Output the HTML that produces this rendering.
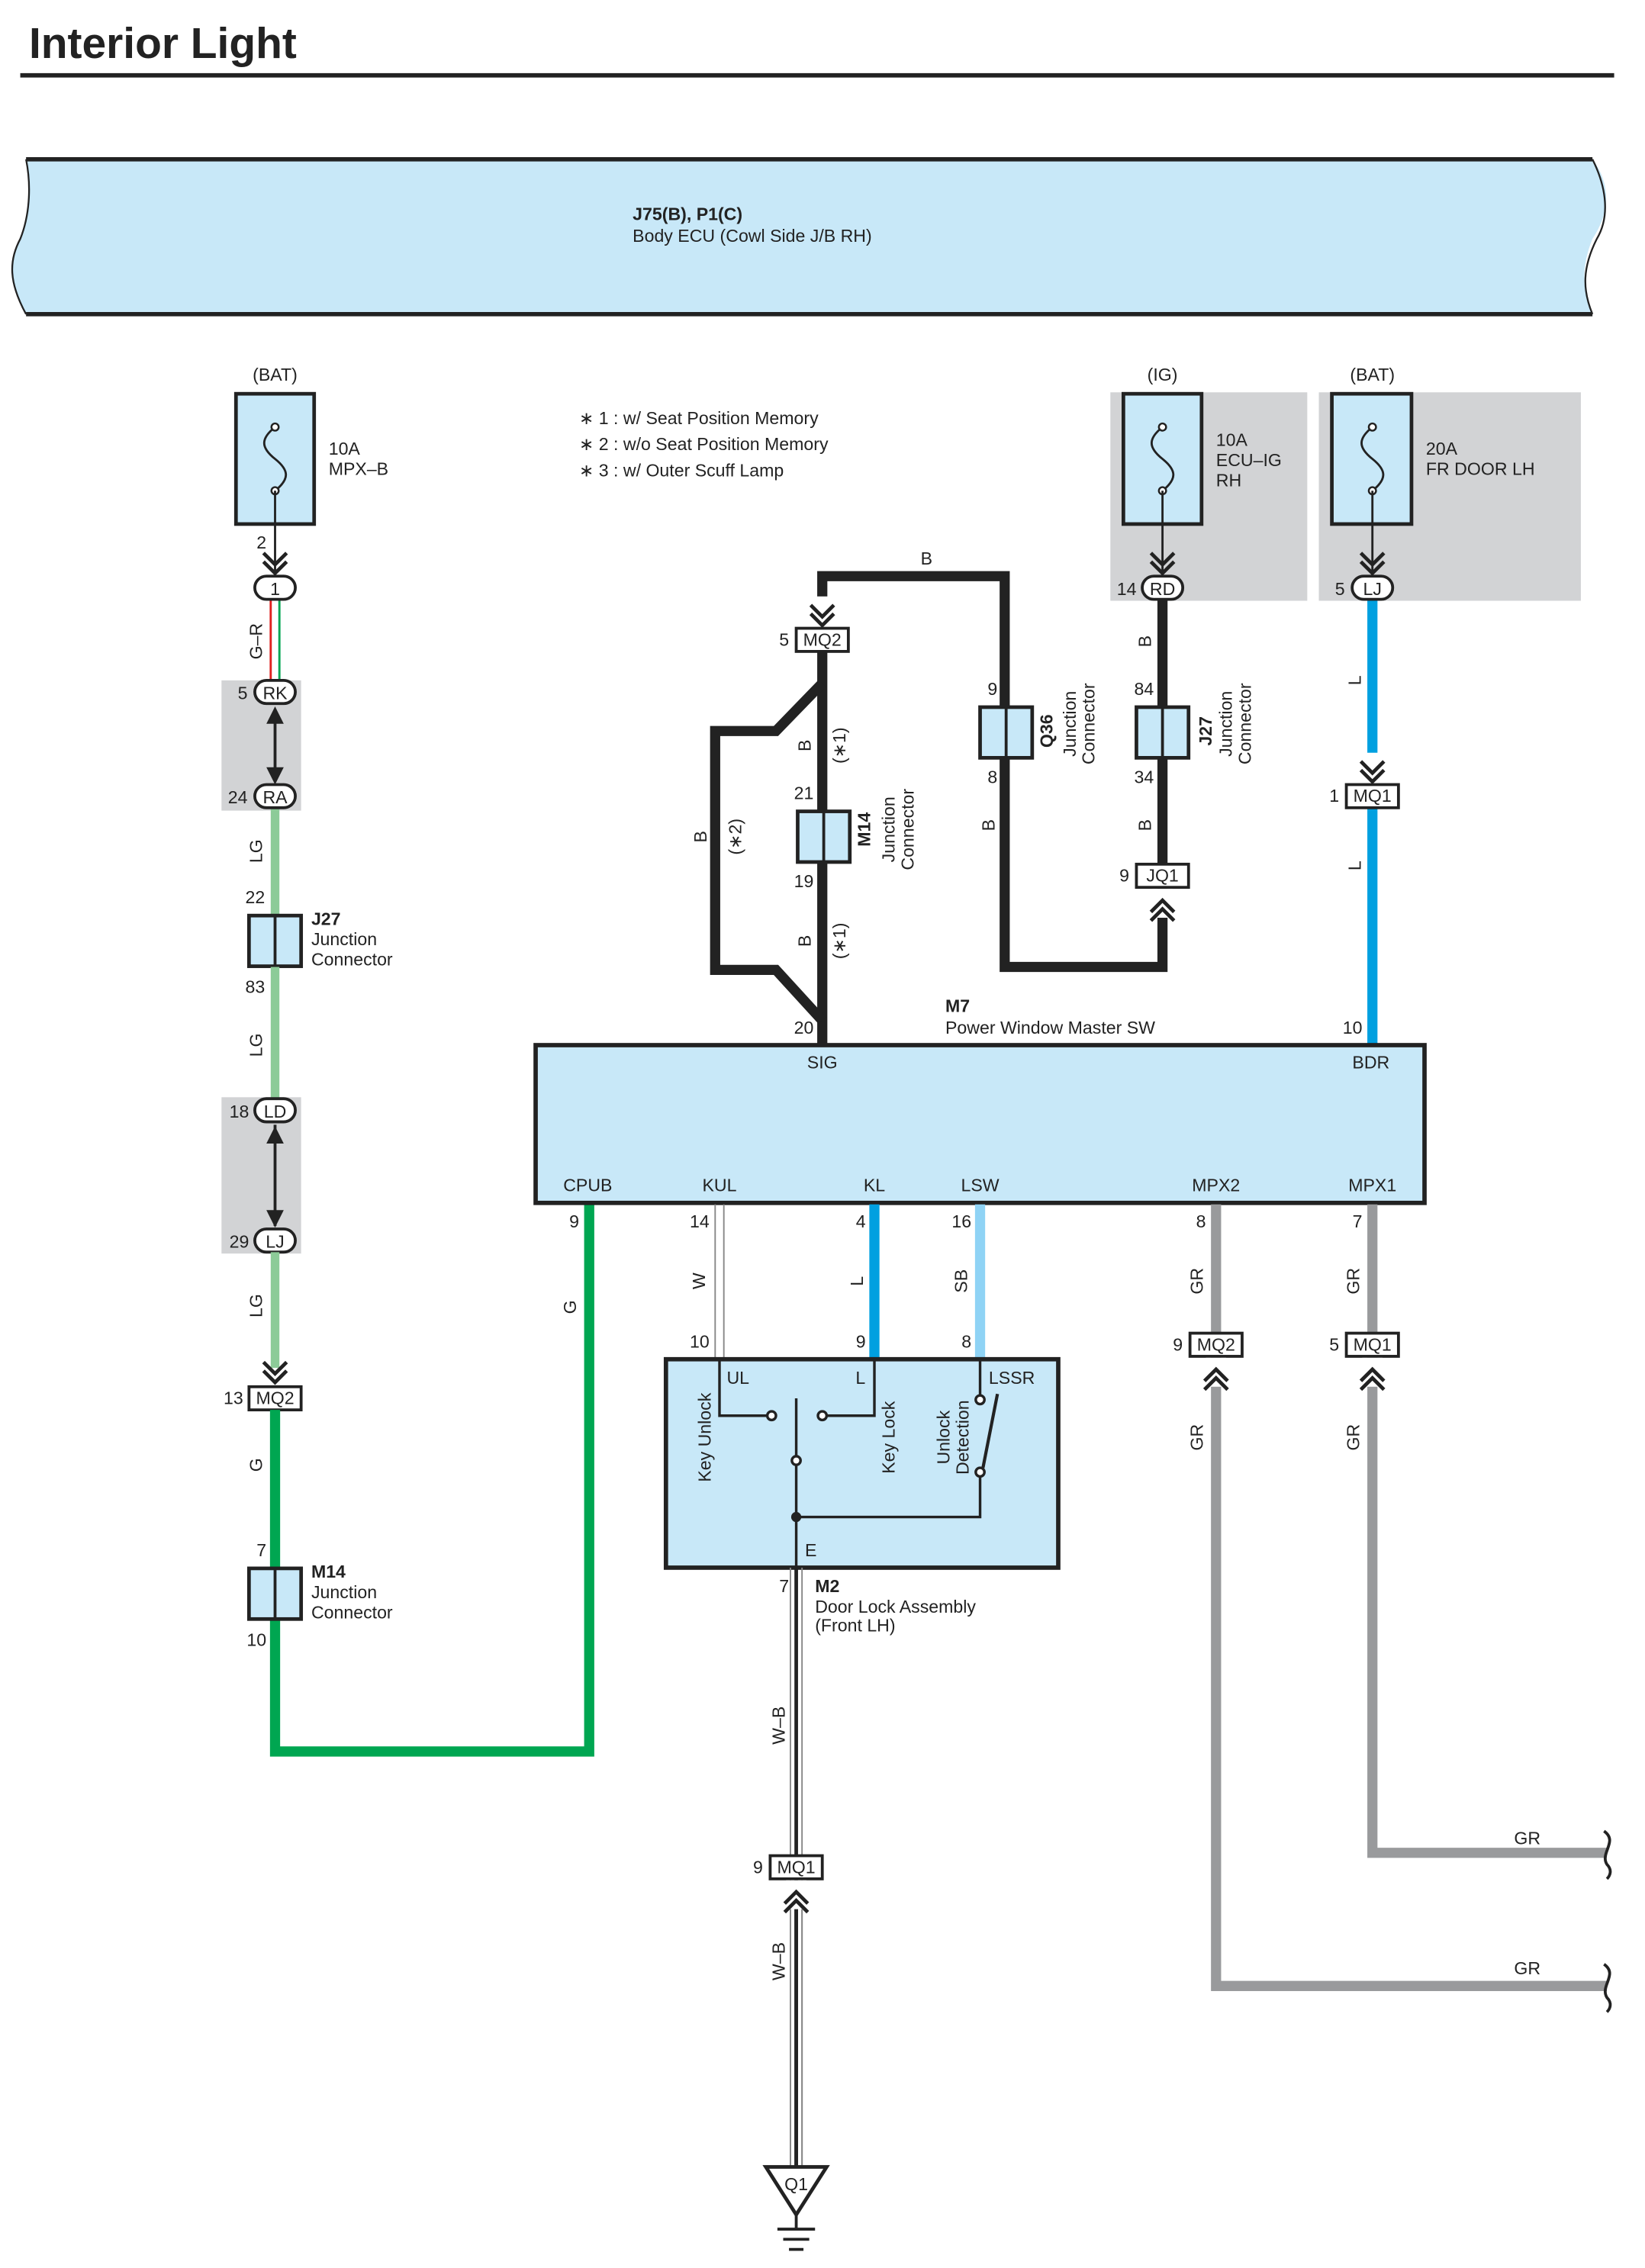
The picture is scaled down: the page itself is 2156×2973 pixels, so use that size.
<!DOCTYPE html>
<html><head><meta charset="utf-8"><style>
html,body{margin:0;padding:0;background:#fff}
svg{display:block}
text{font-family:"Liberation Sans",sans-serif;font-size:12.2px;fill:#222}
.b{font-weight:bold}
.c{text-anchor:middle}
.e{text-anchor:end}
</style></head><body>
<svg width="2156" height="2973" viewBox="0 0 1136.3 1566.8" xmlns="http://www.w3.org/2000/svg">
<defs>
<g id="dn"><polyline points="-8,-12 0,-4 8,-12" fill="none" stroke="#222" stroke-width="2.5"/><polyline points="-8,-6 0,2 8,-6" fill="none" stroke="#222" stroke-width="2.5"/></g>
<g id="up"><polyline points="-8,12 0,4 8,12" fill="none" stroke="#222" stroke-width="2.5"/><polyline points="-8,6 0,-2 8,6" fill="none" stroke="#222" stroke-width="2.5"/></g>
<g id="fuse"><path d="M0,-22 C-10,-14 -10,-8 0,0 C10,8 10,14 0,22" fill="none" stroke="#222" stroke-width="1.5"/><circle cx="0" cy="-22" r="2.5" fill="#fff" stroke="#222" stroke-width="1.3"/><circle cx="0" cy="22" r="2.5" fill="#fff" stroke="#222" stroke-width="1.3"/></g>
<g id="jc"><rect x="-18" y="-17.5" width="36" height="35" fill="#c8e8f8" stroke="#222" stroke-width="2.5"/><line x1="0" y1="-17.5" x2="0" y2="17.5" stroke="#222" stroke-width="2"/></g>
</defs>

<text x="20" y="40" class="b" style="font-size:30px">Interior Light</text>
<line x1="14" y1="52" x2="1115" y2="52" stroke="#222" stroke-width="3"/>

<path d="M18,110 L1100,110 C1115,130 1110,150 1100,165 C1092,185 1093,200 1100,217 L18,217 C6,195 6,180 14,165 C20,150 22,130 18,110 Z" fill="#c8e8f8"/>
<line x1="18" y1="110" x2="1100" y2="110" stroke="#222" stroke-width="3"/>
<line x1="18" y1="217" x2="1100" y2="217" stroke="#222" stroke-width="3"/>
<path d="M18,110 C22,130 20,150 14,165 C6,180 6,195 18,217" fill="none" stroke="#222" stroke-width="1.2"/>
<path d="M1100,110 C1110,130 1112,150 1103,165 C1093,185 1093,200 1100,217" fill="none" stroke="#222" stroke-width="1.2"/>
<text x="437" y="152" class="b">J75(B), P1(C)</text>
<text x="437" y="167">Body ECU (Cowl Side J/B RH)</text>

<text x="400" y="293">∗ 1 : w/ Seat Position Memory</text>
<text x="400" y="311">∗ 2 : w/o Seat Position Memory</text>
<text x="400" y="329">∗ 3 : w/ Outer Scuff Lamp</text>

<rect x="767" y="271" width="136" height="144" fill="#d2d3d5"/>
<rect x="911" y="271" width="181" height="144" fill="#d2d3d5"/>
<rect x="153" y="470" width="55" height="90" fill="#d2d3d5"/>
<rect x="153" y="758" width="55" height="108" fill="#d2d3d5"/>

<text x="190" y="263" class="c">(BAT)</text>
<rect x="163" y="272" width="54" height="90" fill="#c8e8f8" stroke="#222" stroke-width="2.5"/>
<use href="#fuse" x="190" y="317"/>
<line x1="190" y1="339" x2="190" y2="398" stroke="#222" stroke-width="1.5"/>
<text x="227" y="314">10A</text><text x="227" y="328">MPX–B</text>
<text x="184" y="379" class="e">2</text>
<use href="#dn" x="190" y="394"/>
<line x1="187" y1="414" x2="187" y2="470" stroke="#e0201e" stroke-width="1.5"/>
<line x1="190" y1="414" x2="190" y2="470" stroke="#fff" stroke-width="1.5"/>
<line x1="193" y1="414" x2="193" y2="470" stroke="#00a651" stroke-width="1.5"/>
<rect x="176" y="398" width="28" height="16" rx="8" fill="#fff" stroke="#222" stroke-width="2"/>
<text x="190" y="411" class="c">1</text>
<text transform="translate(181,443) rotate(-90)" class="c">G–R</text>
<rect x="176" y="470" width="28" height="16" rx="8" fill="#fff" stroke="#222" stroke-width="2"/>
<text x="190" y="483" class="c">RK</text><text x="171" y="483" class="e">5</text>
<line x1="190" y1="490" x2="190" y2="538" stroke="#222" stroke-width="2"/>
<polygon points="184,500 190,488 196,500" fill="#222"/><polygon points="184,530 190,542 196,530" fill="#222"/>
<line x1="190" y1="558" x2="190" y2="632" stroke="#8ccb98" stroke-width="6"/>
<rect x="176" y="542" width="28" height="16" rx="8" fill="#fff" stroke="#222" stroke-width="2"/>
<text x="190" y="555" class="c">RA</text><text x="171" y="555" class="e">24</text>
<text transform="translate(181,588) rotate(-90)" class="c">LG</text>
<text x="183" y="624" class="e">22</text>
<use href="#jc" x="190" y="650"/>
<text x="215" y="639" class="b">J27</text><text x="215" y="653">Junction</text><text x="215" y="667">Connector</text>
<text x="183" y="686" class="e">83</text>
<line x1="190" y1="668" x2="190" y2="760" stroke="#8ccb98" stroke-width="6"/>
<text transform="translate(181,722) rotate(-90)" class="c">LG</text>
<rect x="176" y="759" width="28" height="16" rx="8" fill="#fff" stroke="#222" stroke-width="2"/>
<text x="190" y="772" class="c">LD</text><text x="172" y="772" class="e">18</text>
<line x1="190" y1="777" x2="190" y2="847" stroke="#222" stroke-width="2"/>
<polygon points="184,790 190,778 196,790" fill="#222"/><polygon points="184,836 190,848 196,836" fill="#222"/>
<rect x="176" y="849" width="28" height="16" rx="8" fill="#fff" stroke="#222" stroke-width="2"/>
<text x="190" y="862" class="c">LJ</text><text x="172" y="862" class="e">29</text>
<line x1="190" y1="865" x2="190" y2="945" stroke="#8ccb98" stroke-width="6"/>
<text transform="translate(181,902) rotate(-90)" class="c">LG</text>
<use href="#dn" x="190" y="953"/>
<rect x="172" y="958" width="36" height="16" fill="#fff" stroke="#222" stroke-width="2"/>
<text x="190" y="970" class="c">MQ2</text><text x="168" y="970" class="e">13</text>
<polyline points="190,974 190,1210 407,1210 407,831" fill="none" stroke="#00a651" stroke-width="7"/>
<text transform="translate(181,1012) rotate(-90)" class="c">G</text>
<text x="184" y="1075" class="e">7</text>
<use href="#jc" x="190" y="1101"/>
<text x="215" y="1090" class="b">M14</text><text x="215" y="1104">Junction</text><text x="215" y="1118">Connector</text>
<text x="184" y="1137" class="e">10</text>
<text transform="translate(398,903) rotate(-90)" class="c">G</text>
<text x="400" y="848" class="e">9</text>

<text x="803" y="263" class="c">(IG)</text>
<rect x="776" y="272" width="54" height="90" fill="#c8e8f8" stroke="#222" stroke-width="2.5"/>
<use href="#fuse" x="803" y="317"/>
<line x1="803" y1="339" x2="803" y2="398" stroke="#222" stroke-width="1.5"/>
<text x="840" y="308">10A</text><text x="840" y="322">ECU–IG</text><text x="840" y="336">RH</text>
<use href="#dn" x="803" y="394"/>
<polyline points="803,414 803,668 694,668 694,398 568,398 568,418" fill="none" stroke="#222" stroke-width="7" stroke-linejoin="miter"/>
<rect x="789" y="398" width="28" height="16" rx="8" fill="#fff" stroke="#222" stroke-width="2"/>
<text x="803" y="411" class="c">RD</text><text x="785" y="411" class="e">14</text>
<text transform="translate(795,443) rotate(-90)" class="c">B</text>
<text x="797" y="480" class="e">84</text>
<use href="#jc" x="803" y="506"/>
<text transform="translate(837,505) rotate(-90)" class="c b">J27</text>
<text transform="translate(851,500) rotate(-90)" class="c">Junction</text>
<text transform="translate(864,500) rotate(-90)" class="c">Connector</text>
<text x="797" y="541" class="e">34</text>
<text transform="translate(795,570) rotate(-90)" class="c">B</text>
<rect x="785" y="597" width="36" height="16" fill="#fff" stroke="#222" stroke-width="2"/>
<text x="803" y="609" class="c">JQ1</text><text x="780" y="609" class="e">9</text>
<rect x="796" y="614" width="14" height="20" fill="#fff"/>
<use href="#up" x="803" y="624"/>
<text x="640" y="390" class="c">B</text>
<use href="#jc" x="695" y="506"/>
<text x="689" y="480" class="e">9</text><text x="689" y="541" class="e">8</text>
<text transform="translate(727,505) rotate(-90)" class="c b">Q36</text>
<text transform="translate(743,500) rotate(-90)" class="c">Junction</text>
<text transform="translate(756,500) rotate(-90)" class="c">Connector</text>
<text transform="translate(687,570) rotate(-90)" class="c">B</text>
<rect x="560" y="412" width="16" height="22" fill="#fff"/>
<use href="#dn" x="568" y="430"/>
<rect x="550" y="434" width="36" height="16" fill="#fff" stroke="#222" stroke-width="2"/>
<text x="568" y="446" class="c">MQ2</text><text x="545" y="446" class="e">5</text>
<line x1="568" y1="450" x2="568" y2="722" stroke="#222" stroke-width="7"/>
<polyline points="568,472 536,505 494,505 494,670 536,670 568,705" fill="none" stroke="#222" stroke-width="7"/>
<text transform="translate(488,578) rotate(-90)" class="c">B</text>
<text transform="translate(512,578) rotate(-90)" class="c">(∗2)</text>
<text transform="translate(560,515) rotate(-90)" class="c">B</text>
<text transform="translate(584,515) rotate(-90)" class="c">(∗1)</text>
<text x="562" y="552" class="e">21</text>
<use href="#jc" x="569" y="578"/>
<text x="562" y="613" class="e">19</text>
<text transform="translate(560,650) rotate(-90)" class="c">B</text>
<text transform="translate(584,650) rotate(-90)" class="c">(∗1)</text>
<text transform="translate(601,573) rotate(-90)" class="c b">M14</text>
<text transform="translate(618,573) rotate(-90)" class="c">Junction</text>
<text transform="translate(631,573) rotate(-90)" class="c">Connector</text>
<text x="562" y="714" class="e">20</text>
<text x="653" y="699" class="b">M7</text>
<text x="653" y="714">Power Window Master SW</text>

<text x="948" y="263" class="c">(BAT)</text>
<rect x="920" y="272" width="55" height="90" fill="#c8e8f8" stroke="#222" stroke-width="2.5"/>
<use href="#fuse" x="948" y="317"/>
<line x1="948" y1="339" x2="948" y2="398" stroke="#222" stroke-width="1.5"/>
<text x="985" y="314">20A</text><text x="985" y="328">FR DOOR LH</text>
<use href="#dn" x="948" y="394"/>
<line x1="948" y1="414" x2="948" y2="722" stroke="#00a0e0" stroke-width="7"/>
<rect x="934" y="398" width="28" height="16" rx="8" fill="#fff" stroke="#222" stroke-width="2"/>
<text x="948" y="411" class="c">LJ</text><text x="929" y="411" class="e">5</text>
<text transform="translate(940,470) rotate(-90)" class="c">L</text>
<rect x="941" y="520" width="14" height="22" fill="#fff"/>
<use href="#dn" x="948" y="538"/>
<rect x="930" y="542" width="36" height="16" fill="#fff" stroke="#222" stroke-width="2"/>
<text x="948" y="554" class="c">MQ1</text><text x="925" y="554" class="e">1</text>
<text transform="translate(940,598) rotate(-90)" class="c">L</text>
<text x="941" y="714" class="e">10</text>

<rect x="370" y="722" width="614" height="109" fill="#c8e8f8" stroke="#222" stroke-width="3"/>
<text x="568" y="738" class="c">SIG</text><text x="947" y="738" class="c">BDR</text>
<text x="406" y="823" class="c">CPUB</text><text x="497" y="823" class="c">KUL</text>
<text x="604" y="823" class="c">KL</text><text x="677" y="823" class="c">LSW</text>
<text x="840" y="823" class="c">MPX2</text><text x="948" y="823" class="c">MPX1</text>

<line x1="494" y1="832" x2="494" y2="939" stroke="#888" stroke-width="1"/>
<line x1="500" y1="832" x2="500" y2="939" stroke="#888" stroke-width="1"/>
<text x="490" y="848" class="e">14</text>
<text transform="translate(487,885) rotate(-90)" class="c">W</text>
<text x="490" y="931" class="e">10</text>
<line x1="604" y1="832" x2="604" y2="939" stroke="#00a0e0" stroke-width="7"/>
<text x="598" y="848" class="e">4</text>
<text transform="translate(596,885) rotate(-90)" class="c">L</text>
<text x="598" y="931" class="e">9</text>
<line x1="677" y1="832" x2="677" y2="939" stroke="#8fd3f5" stroke-width="7"/>
<text x="671" y="848" class="e">16</text>
<text transform="translate(668,885) rotate(-90)" class="c">SB</text>
<text x="671" y="931" class="e">8</text>

<polyline points="840,832 840,1372 1110,1372" fill="none" stroke="#999a9c" stroke-width="7"/>
<polyline points="948,832 948,1280 1110,1280" fill="none" stroke="#999a9c" stroke-width="7"/>
<text x="833" y="848" class="e">8</text><text x="941" y="848" class="e">7</text>
<text transform="translate(831,885) rotate(-90)" class="c">GR</text>
<text transform="translate(939,885) rotate(-90)" class="c">GR</text>
<rect x="822" y="921" width="36" height="16" fill="#fff" stroke="#222" stroke-width="2"/>
<text x="840" y="933" class="c">MQ2</text><text x="817" y="933" class="e">9</text>
<rect x="930" y="921" width="36" height="16" fill="#fff" stroke="#222" stroke-width="2"/>
<text x="948" y="933" class="c">MQ1</text><text x="925" y="933" class="e">5</text>
<rect x="833" y="938" width="14" height="20" fill="#fff"/><use href="#up" x="840" y="948"/>
<rect x="941" y="938" width="14" height="20" fill="#fff"/><use href="#up" x="948" y="948"/>
<text transform="translate(831,993) rotate(-90)" class="c">GR</text>
<text transform="translate(939,993) rotate(-90)" class="c">GR</text>
<text x="1055" y="1274" class="c">GR</text>
<text x="1055" y="1364" class="c">GR</text>
<path d="M1108,1265 C1118,1272 1105,1280 1110,1288 C1114,1292 1112,1296 1110,1298" fill="none" stroke="#222" stroke-width="2"/>
<path d="M1108,1357 C1118,1364 1105,1372 1110,1380 C1114,1384 1112,1388 1110,1390" fill="none" stroke="#222" stroke-width="2"/>

<rect x="460" y="939" width="271" height="144" fill="#c8e8f8" stroke="#222" stroke-width="3"/>
<text x="502" y="956">UL</text><text x="591" y="956">L</text><text x="683" y="956">LSSR</text>
<text transform="translate(491,993) rotate(-90)" class="c">Key Unlock</text>
<text transform="translate(618,993) rotate(-90)" class="c">Key Lock</text>
<text transform="translate(656,993) rotate(-90)" class="c">Unlock</text>
<text transform="translate(669,993) rotate(-90)" class="c">Detection</text>
<text x="556" y="1075">E</text>
<g fill="none" stroke="#222" stroke-width="1.8">
<polyline points="497,939 497,978 530,978"/>
<polyline points="604,939 604,978 571,978"/>
<line x1="550" y1="966" x2="550" y2="1083"/>
<polyline points="677,939 677,964"/>
<polyline points="677,1020 677,1048 550,1048"/>
<line x1="679" y1="1014" x2="689" y2="963" stroke-width="2.2"/>
</g>
<g fill="#fff" stroke="#222" stroke-width="1.8">
<circle cx="533" cy="978" r="3"/><circle cx="568" cy="978" r="3"/>
<circle cx="550" cy="1009" r="3"/><circle cx="677" cy="967" r="3"/><circle cx="677" cy="1017" r="3"/>
</g>
<circle cx="550" cy="1048" r="3.5" fill="#222"/>

<line x1="546" y1="1083" x2="546" y2="1497" stroke="#888" stroke-width="1"/>
<line x1="554" y1="1083" x2="554" y2="1497" stroke="#888" stroke-width="1"/>
<line x1="550" y1="1083" x2="550" y2="1497" stroke="#222" stroke-width="2.5"/>
<text x="545" y="1100" class="e">7</text>
<text x="563" y="1100" class="b">M2</text>
<text x="563" y="1114">Door Lock Assembly</text>
<text x="563" y="1127">(Front LH)</text>
<text transform="translate(542,1192) rotate(-90)" class="c">W–B</text>
<rect x="532" y="1282" width="36" height="16" fill="#fff" stroke="#222" stroke-width="2"/>
<text x="550" y="1294" class="c">MQ1</text><text x="527" y="1294" class="e">9</text>
<rect x="543" y="1299" width="14" height="20" fill="#fff"/><use href="#up" x="550" y="1309"/>
<line x1="546" y1="1319" x2="546" y2="1497" stroke="#888" stroke-width="1"/>
<line x1="554" y1="1319" x2="554" y2="1497" stroke="#888" stroke-width="1"/>
<line x1="550" y1="1319" x2="550" y2="1497" stroke="#222" stroke-width="2.5"/>
<text transform="translate(542,1355) rotate(-90)" class="c">W–B</text>
<polygon points="529,1497 571,1497 550,1530" fill="#fff" stroke="#222" stroke-width="2.5"/>
<text x="550" y="1513" class="c">Q1</text>
<line x1="550" y1="1530" x2="550" y2="1540" stroke="#222" stroke-width="2"/>
<line x1="537" y1="1540" x2="563" y2="1540" stroke="#222" stroke-width="2"/>
<line x1="541" y1="1547" x2="559" y2="1547" stroke="#222" stroke-width="2"/>
<line x1="545" y1="1554" x2="555" y2="1554" stroke="#222" stroke-width="2"/>
</svg>
</body></html>
